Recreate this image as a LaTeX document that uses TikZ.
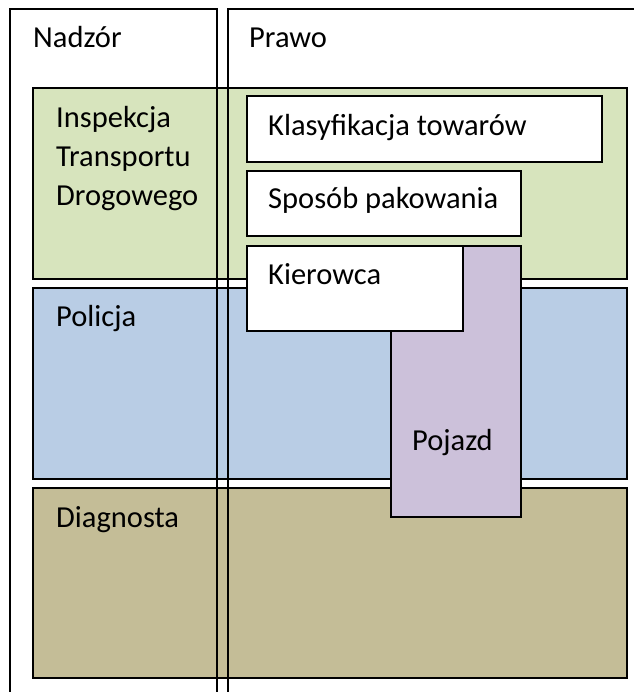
\documentclass[tikz,border=0pt]{standalone}
\usepackage{fontspec}
\setmainfont{Carlito}
\usetikzlibrary{positioning}
\definecolor{bandgreen}{HTML}{D7E4BD}
\definecolor{bandblue}{HTML}{B9CDE5}
\definecolor{bandtan}{HTML}{C4BD97}
\definecolor{boxpurple}{HTML}{CCC1DA}
\tikzset{
	x=1pt, y=-1pt,
	band/.style ={draw, line width=1.5pt},
	wbox/.style ={draw, fill=white, line width=1.5pt},
	col/.style ={draw, line width=1.5pt},
	lbl/.style ={anchor=base west, inner sep=0pt, font=\fontsize{30.5}{39}\selectfont}
}
\begin{document}
\begin{tikzpicture}
    \useasboundingbox[fill=white] (0,0) rectangle (633,692);

    % pasy nadzoru
    \path[band, fill=bandgreen] (33,88) rectangle (627,279);
    \path[band, fill=bandblue] (33,288) rectangle (627,479);
    \path[band, fill=bandtan] (33,488) rectangle (627,678);

    % kolumny
    \path[col] (10,720) |- (217,9) -- (217,720);
    \path[col] (228,720) |- (660,9);

    \node[lbl] (nadzor) at (33,48) {Nadzór};
    \node[lbl] (prawo) at (249,48) {Prawo};
    \node[lbl] (itd1) at (56,128) {Inspekcja};
    \node[lbl] (itd2) at (56,167) {Transportu};
    \node[lbl] (itd3) at (56,206) {Drogowego};
    \node[lbl] (policja) at (56,326) {Policja};
    \node[lbl] (diag) at (56,527) {Diagnosta};

    % prawo
    \path[wbox] (247,96) rectangle (602,162);
    \node[lbl] (klas) at (268,136) {Klasyfikacja towarów};
    \path[wbox] (247,171) rectangle (521,236);
    \node[lbl] (spos) at (268,209) {Sposób pakowania};
    \path[band, fill=boxpurple] (391,246) rectangle (521,517);
    \node[lbl] (pojazd) at (412,450) {Pojazd};
    \path[wbox] (247,246) rectangle (463,331);
    \node[lbl] (kier) at (268,284) {Kierowca};

\end{tikzpicture}
\end{document}
